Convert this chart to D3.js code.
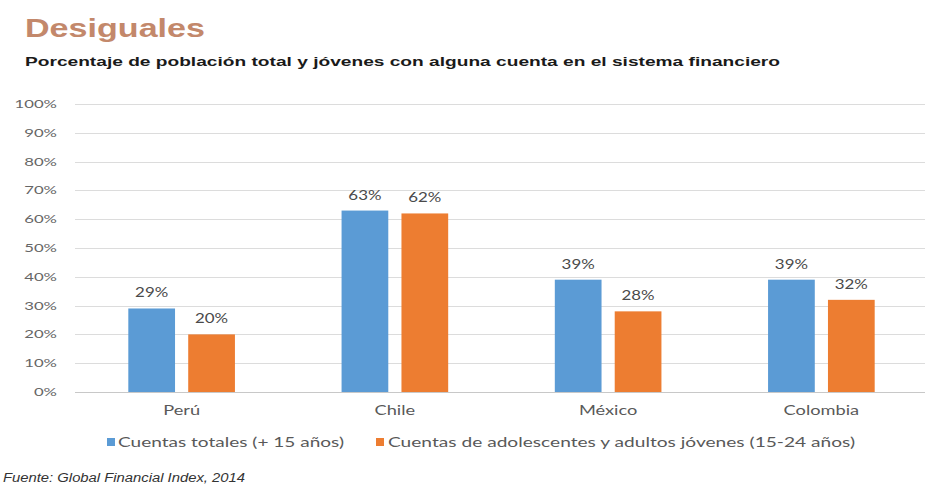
<!DOCTYPE html>
<html>
<head>
<meta charset="utf-8">
<script src="https://cdn.jsdelivr.net/npm/d3@7"></script>
<style>
  html, body { margin: 0; padding: 0; background: #ffffff; }
  svg { display: block; }
</style>
</head>
<body>
<svg id="chart" width="925" height="490"></svg>
<script>
// Data
const categories = ["Perú", "Chile", "México", "Colombia"];
const seriesNames = ["Cuentas totales (+ 15 años)", "Cuentas de adolescentes y adultos jóvenes (15-24 años)"];
const totalValues = [29, 63, 39, 39];
const youthValues = [20, 62, 28, 32];
const yTicks = [0, 10, 20, 30, 40, 50, 60, 70, 80, 90, 100];

const colors = ["#5B9BD5", "#ED7D31"];
const svg = d3.select("#chart");

// Stretch a text to a given width
function fitWidth(sel, w) {
  sel.attr("textLength", w).attr("lengthAdjust", "spacingAndGlyphs");
}
// Stretch texts by a factor of their natural width
function stretch(sel, k) {
  sel.each(function () {
    const w = this.getComputedTextLength();
    d3.select(this).attr("textLength", w * k).attr("lengthAdjust", "spacingAndGlyphs");
  });
}

// Titles
svg.append("text")
  .attr("x", 25).attr("y", 37)
  .attr("font-family", "Liberation Sans, Arial, sans-serif")
  .attr("font-weight", "bold").attr("font-size", 26)
  .attr("fill", "#C3886B")
  .text("Desiguales")
  .call(fitWidth, 180);

svg.append("text")
  .attr("x", 25).attr("y", 66)
  .attr("font-family", "Liberation Sans, Arial, sans-serif")
  .attr("font-weight", "bold").attr("font-size", 13.5)
  .attr("fill", "#1a1a1a")
  .text("Porcentaje de población total y jóvenes con alguna cuenta en el sistema financiero")
  .call(fitWidth, 755);

// Scales
const x0 = d3.scaleBand().domain(categories).range([75, 928]).paddingInner(0.5).paddingOuter(0.25);
const x1 = d3.scaleBand().domain([0, 1]).range([0, x0.bandwidth()]).paddingInner(0.22);
const y = d3.scaleLinear().domain([0, 100]).range([392, 104]);

// Gridlines
svg.append("g")
  .selectAll("line")
  .data(yTicks)
  .join("line")
  .attr("x1", 75).attr("x2", 925)
  .attr("y1", d => Math.round(y(d)) + 0.5).attr("y2", d => Math.round(y(d)) + 0.5)
  .attr("stroke", d => d === 0 ? "#C8C8C8" : "#DCDCDC")
  .attr("stroke-width", 1);

// Y tick labels
svg.append("g")
  .selectAll("text")
  .data(yTicks)
  .join("text")
  .attr("x", 57).attr("y", d => y(d))
  .attr("dy", "0.35em")
  .attr("text-anchor", "end")
  .attr("font-family", "Lato, sans-serif")
  .attr("font-size", 11.5)
  .attr("fill", "#666666")
  .text(d => d + "%")
  .call(stretch, 1.45);

// Bars
const rows = categories.map((c, i) => ({ cat: c, vals: [totalValues[i], youthValues[i]] }));
const groups = svg.append("g")
  .selectAll("g")
  .data(rows)
  .join("g")
  .attr("transform", d => `translate(${x0(d.cat)},0)`);

groups.selectAll("rect")
  .data(d => d.vals.map((v, s) => ({ v, s })))
  .join("rect")
  .attr("x", d => x1(d.s))
  .attr("width", x1.bandwidth())
  .attr("y", d => y(d.v))
  .attr("height", d => y(0) - y(d.v))
  .attr("fill", d => colors[d.s]);

// Value labels
groups.selectAll("text")
  .data(d => d.vals.map((v, s) => ({ v, s })))
  .join("text")
  .attr("x", d => x1(d.s) + x1.bandwidth() / 2)
  .attr("y", d => y(d.v) - 11)
  .attr("text-anchor", "middle")
  .attr("font-family", "Lato, sans-serif")
  .attr("font-size", 12.5)
  .attr("fill", "#4a4a4a")
  .text(d => d.v + "%")
  .call(stretch, 1.35);

// Category labels
svg.append("g")
  .selectAll("text")
  .data(categories)
  .join("text")
  .attr("x", d => x0(d) + x0.bandwidth() / 2)
  .attr("y", 415)
  .attr("text-anchor", "middle")
  .attr("font-family", "Lato, sans-serif")
  .attr("font-size", 13)
  .attr("fill", "#595959")
  .text(d => d)
  .call(stretch, 1.4);

// Legend
const legendItems = [
  { name: seriesNames[0], sx: 107, tx: 118, w: 226 },
  { name: seriesNames[1], sx: 376, tx: 388, w: 467 }
];
const lg = svg.append("g");
legendItems.forEach((d, i) => {
  lg.append("rect")
    .attr("x", d.sx).attr("y", 438)
    .attr("width", 8).attr("height", 8)
    .attr("fill", colors[i]);
  lg.append("text")
    .attr("x", d.tx).attr("y", 447)
    .attr("font-family", "Lato, sans-serif")
    .attr("font-size", 13)
    .attr("fill", "#595959")
    .text(d.name)
    .call(fitWidth, d.w);
});

// Source
svg.append("text")
  .attr("x", 3).attr("y", 482)
  .attr("font-family", "Liberation Sans, Arial, sans-serif")
  .attr("font-style", "italic")
  .attr("font-size", 12)
  .attr("fill", "#333333")
  .text("Fuente: Global Financial Index, 2014")
  .call(fitWidth, 242);
</script>
</body>
</html>
